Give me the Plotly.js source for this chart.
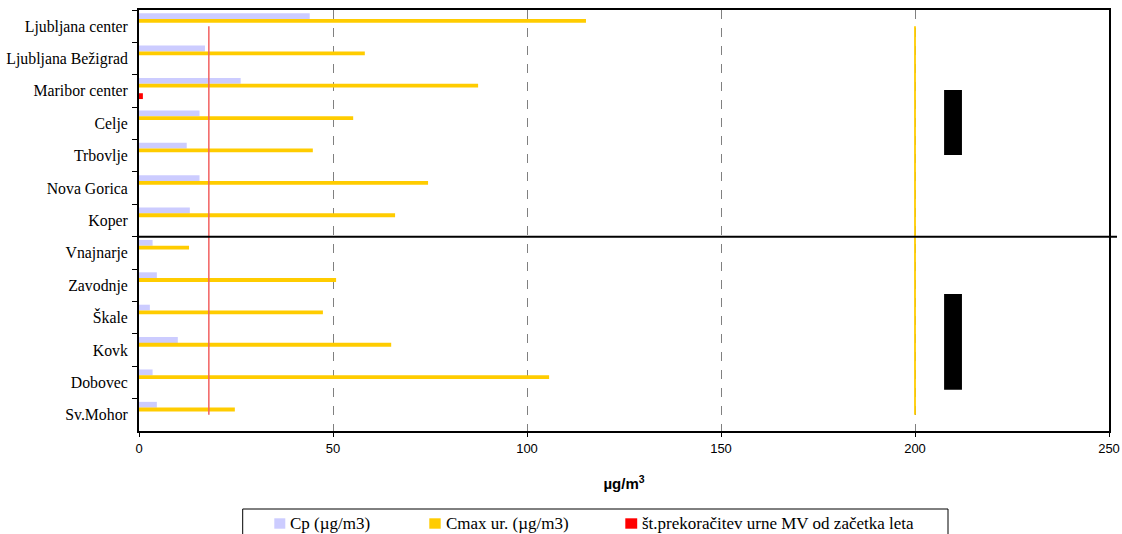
<!DOCTYPE html>
<html>
<head>
<meta charset="utf-8">
<script src="https://cdn.plot.ly/plotly-3.0.1.min.js"></script>
<style>html,body{margin:0;padding:0;background:#fff;}#chart{width:1122px;height:534px;}</style>
</head>
<body>
<div id="chart"></div>
<script>
// ---- data ----
const stations = ["Ljubljana center","Ljubljana Bežigrad","Maribor center","Celje","Trbovlje","Nova Gorica","Koper",
                  "Vnajnarje","Zavodnje","Škale","Kovk","Dobovec","Sv.Mohor"];
const cpValues   = [44, 17, 26.2, 15.6, 12.3, 15.6, 13.1, 3.5, 4.6, 2.8, 10, 3.5, 4.6];
const cmaxValues = [115.2, 58.2, 87.4, 55.2, 44.8, 74.5, 66, 12.9, 50.8, 47.4, 65, 105.7, 24.7];
const exceedCount = [0, 0, 1, 0, 0, 0, 0, 0, 0, 0, 0, 0, 0];
const annualLine = [18, 18, 18, 18, 18, 18, 18, 18, 18, 18, 18, 18, 18];
const hourlyLimitLine = [200, 200, 200, 200, 200, 200, 200, 200, 200, 200, 200, 200, 200];
const legendLabels = ["Cp (µg/m3)", "Cmax ur. (µg/m3)", "št.prekoračitev urne MV od začetka leta"];
const xTicks = [0, 50, 100, 150, 200, 250];

const serif = "Liberation Serif, Times New Roman, serif";
const sans = "Liberation Sans, Arial, sans-serif";
const colCp = "#CCCCFF", colCmax = "#FFCC00", colEx = "#FF0000";

const traces = [
  {type:"bar", orientation:"h", y:stations, x:cpValues, name:legendLabels[0],
   marker:{color:colCp}, offset:-0.40, width:0.18, hoverinfo:"x"},
  {type:"bar", orientation:"h", y:stations, x:cmaxValues, name:legendLabels[1],
   marker:{color:colCmax}, offset:-0.222, width:0.118, hoverinfo:"x"},
  {type:"bar", orientation:"h", y:stations, x:exceedCount, name:legendLabels[2],
   marker:{color:colEx}, offset:0.07, width:0.18, hoverinfo:"x"},
  {type:"scatter", mode:"lines", y:stations, x:annualLine, line:{color:"#F26060", width:1.5}, hoverinfo:"x"},
  {type:"scatter", mode:"lines", y:stations, x:hourlyLimitLine, line:{color:"#FFCC00", width:1.8}, hoverinfo:"x"}
];

function px2x(px){ return (px-139)/970; }
function py2y(py){ return (431-py)/421; }

const shapes = [
  // separator between urban and rural stations
  {type:"line", xref:"paper", yref:"y", x0:0, x1:px2x(1117), y0:6.5, y1:6.5, line:{color:"#000", width:2}},
  // black blocks
  {type:"rect", xref:"x", yref:"y", x0:207.5, x1:212.1, y0:1.97, y1:3.98, fillcolor:"#000", line:{width:0}},
  {type:"rect", xref:"x", yref:"y", x0:207.5, x1:212.1, y0:8.27, y1:11.23, fillcolor:"#000", line:{width:0}},
  // legend frame
  {type:"rect", xref:"paper", yref:"paper", x0:px2x(242.7), x1:px2x(948), y0:py2y(509), y1:py2y(545),
   line:{color:"#000", width:1}, fillcolor:"rgba(0,0,0,0)"},
  {type:"rect", xref:"paper", yref:"paper", x0:px2x(274.3), x1:px2x(285.3), y0:py2y(518.3), y1:py2y(528.7), fillcolor:colCp, line:{width:0}},
  {type:"rect", xref:"paper", yref:"paper", x0:px2x(429.3), x1:px2x(440.7), y0:py2y(518.3), y1:py2y(528.7), fillcolor:colCmax, line:{width:0}},
  {type:"rect", xref:"paper", yref:"paper", x0:px2x(625.3), x1:px2x(637.2), y0:py2y(518.3), y1:py2y(528.7), fillcolor:colEx, line:{width:0}}
];

const legendX = [289, 445, 641];
const annotations = legendLabels.map((t,i)=>({
  xref:"paper", yref:"paper", x:px2x(legendX[i]), y:py2y(523), xanchor:"left", yanchor:"middle",
  text:t, showarrow:false, font:{family:serif, size:17, color:"#000"}, borderpad:0
}));

const layout = {
  width:1122, height:534,
  margin:{l:139, r:13, t:10, b:103, pad:0},
  paper_bgcolor:"#fff", plot_bgcolor:"#fff",
  barmode:"overlay",
  showlegend:false,
  xaxis:{range:[0,250], tickvals:xTicks, ticktext:xTicks.map(String),
    showgrid:true, gridcolor:"#808080", griddash:"dash", gridwidth:1, zeroline:false,
    showline:true, linecolor:"#000", linewidth:2, mirror:true,
    ticks:"outside", ticklen:4, tickcolor:"#000",
    tickfont:{family:sans, size:13, color:"#000"},
    title:{text:"µg/m<sup>3</sup>", font:{family:sans, size:15, color:"#000", weight:"bold"}, standoff:24}},
  yaxis:{type:"category", categoryorder:"array", categoryarray:stations,
    range:[12.5,-0.5], showgrid:false, zeroline:false,
    showline:true, linecolor:"#000", linewidth:2, mirror:true,
    ticks:"outside", ticklen:5, tickcolor:"#000", tickson:"boundaries", ticklabelstandoff:6,
    tickfont:{family:serif, size:15.8, color:"#000"}},
  shapes:shapes,
  annotations:annotations
};

Plotly.newPlot("chart", traces, layout, {displayModeBar:false, staticPlot:true});
</script>
</body>
</html>
